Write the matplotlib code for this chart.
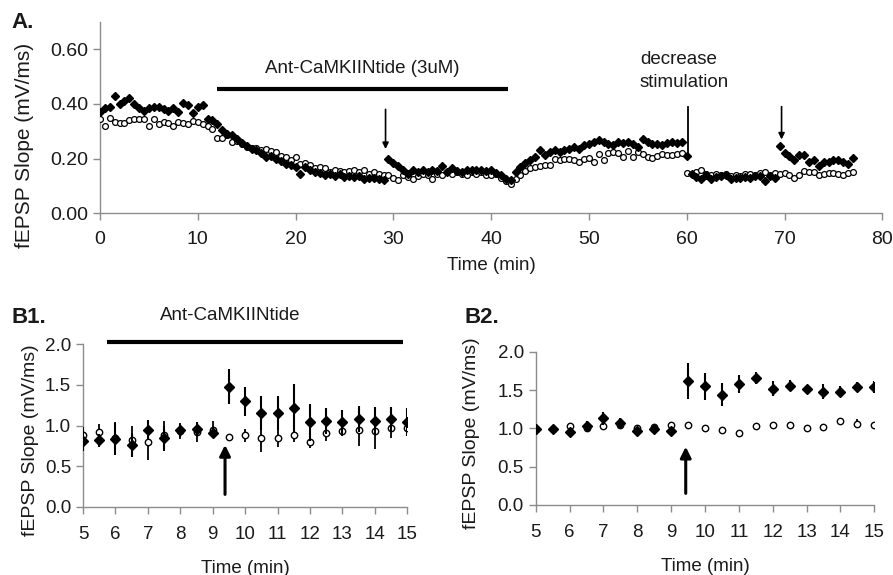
import numpy as np
import matplotlib
matplotlib.use("Agg")
import matplotlib.pyplot as plt

plt.rcParams['font.family'] = ['Liberation Sans', 'DejaVu Sans']

# ---------------- Panel A data (sampled every 0.5 min from 0 to 77 min) ----------------
a_t_start = 0.0
a_t_step = 0.5
a_filled = [
    0.370, 0.385, 0.390, 0.430, 0.400, 0.410, 0.420, 0.400, 0.385, 0.375,
    0.385, 0.390, 0.390, 0.380, 0.375, 0.385, 0.370, 0.405, 0.395, 0.365,
    0.390, 0.395, 0.345, 0.342, 0.327, 0.303, 0.291, 0.285, 0.270, 0.258,
    0.245, 0.236, 0.232, 0.222, 0.206, 0.210, 0.197, 0.190, 0.182, 0.178,
    0.168, 0.145, 0.170, 0.160, 0.150, 0.148, 0.140, 0.145, 0.138, 0.142,
    0.133, 0.138, 0.132, 0.135, 0.125, 0.130, 0.128, 0.125, 0.122, 0.200,
    0.185, 0.172, 0.158, 0.145, 0.160, 0.152, 0.160, 0.150, 0.158, 0.155,
    0.172, 0.152, 0.164, 0.155, 0.150, 0.160, 0.158, 0.160, 0.158, 0.155,
    0.160, 0.148, 0.140, 0.127, 0.121, 0.152, 0.170, 0.185, 0.195, 0.206,
    0.230, 0.212, 0.224, 0.230, 0.224, 0.230, 0.236, 0.242, 0.236, 0.248,
    0.255, 0.260, 0.269, 0.260, 0.255, 0.248, 0.260, 0.256, 0.260, 0.253,
    0.242, 0.273, 0.260, 0.253, 0.253, 0.250, 0.256, 0.260, 0.256, 0.260,
    0.208, 0.145, 0.133, 0.127, 0.139, 0.127, 0.133, 0.136, 0.139, 0.125,
    0.130, 0.128, 0.132, 0.130, 0.135, 0.138, 0.118, 0.138, 0.130, 0.246,
    0.220, 0.208, 0.196, 0.212, 0.215, 0.188, 0.196, 0.172, 0.188, 0.188,
    0.194, 0.196, 0.188, 0.182, 0.204,
]
a_open = [
    0.345, 0.320, 0.350, 0.335, 0.330, 0.332, 0.340, 0.345, 0.345, 0.345,
    0.320, 0.345, 0.325, 0.335, 0.330, 0.320, 0.335, 0.330, 0.325, 0.338,
    0.335, 0.327, 0.321, 0.309, 0.276, 0.276, 0.288, 0.261, 0.265, 0.255,
    0.242, 0.238, 0.240, 0.230, 0.236, 0.228, 0.224, 0.208, 0.205, 0.194,
    0.206, 0.182, 0.185, 0.175, 0.164, 0.170, 0.164, 0.152, 0.160, 0.155,
    0.150, 0.155, 0.158, 0.150, 0.158, 0.145, 0.150, 0.142, 0.140, 0.139,
    0.130, 0.121, 0.139, 0.132, 0.127, 0.135, 0.145, 0.140, 0.127, 0.145,
    0.140, 0.150, 0.145, 0.150, 0.145, 0.140, 0.150, 0.145, 0.150, 0.140,
    0.140, 0.145, 0.130, 0.118, 0.107, 0.127, 0.140, 0.155, 0.164, 0.168,
    0.173, 0.176, 0.176, 0.200, 0.194, 0.200, 0.200, 0.194, 0.188, 0.200,
    0.204, 0.188, 0.216, 0.194, 0.220, 0.225, 0.220, 0.206, 0.227, 0.206,
    0.224, 0.218, 0.206, 0.204, 0.209, 0.218, 0.214, 0.214, 0.218, 0.220,
    0.148, 0.145, 0.152, 0.158, 0.145, 0.140, 0.145, 0.140, 0.142, 0.138,
    0.140, 0.135, 0.142, 0.145, 0.140, 0.148, 0.150, 0.140, 0.148, 0.145,
    0.148, 0.140, 0.130, 0.140, 0.155, 0.152, 0.150, 0.140, 0.145, 0.148,
    0.148, 0.145, 0.140, 0.148, 0.152,
]

# ---------------- Panel B data ----------------
b_time = [5, 5.5, 6, 6.5, 7, 7.5, 8, 8.5, 9, 9.5, 10, 10.5, 11, 11.5, 12,
          12.5, 13, 13.5, 14, 14.5, 15]
b1_filled = [0.81, 0.82, 0.83, 0.76, 0.95, 0.84, 0.94, 0.96, 0.91, 1.48, 1.30,
             1.15, 1.15, 1.21, 1.04, 1.06, 1.04, 1.08, 1.06, 1.08, 1.04]
b1_filled_err = [0.12, 0.08, 0.20, 0.15, 0.12, 0.15, 0.08, 0.08, 0.07, 0.22, 0.18,
                 0.21, 0.21, 0.30, 0.23, 0.16, 0.15, 0.16, 0.17, 0.15, 0.17]
b1_open = [0.88, 0.92, 0.84, 0.82, 0.80, 0.88, 0.93, 0.92, 0.95, 0.86, 0.88,
           0.84, 0.84, 0.88, 0.80, 0.91, 0.93, 0.95, 0.93, 0.97, 0.97]
b1_open_err = [0.10, 0.10, 0.20, 0.18, 0.22, 0.18, 0.10, 0.12, 0.10, 0.00, 0.08,
               0.17, 0.10, 0.08, 0.08, 0.10, 0.06, 0.20, 0.22, 0.12, 0.10]

b2_filled = [0.99, 0.99, 0.95, 1.03, 1.13, 1.07, 0.97, 0.99, 0.97, 1.62, 1.55,
             1.44, 1.58, 1.66, 1.52, 1.56, 1.51, 1.48, 1.48, 1.54, 1.54]
b2_filled_err = [0.03, 0.03, 0.04, 0.07, 0.08, 0.07, 0.03, 0.04, 0.04, 0.23, 0.18,
                 0.15, 0.12, 0.08, 0.10, 0.07, 0.06, 0.10, 0.07, 0.06, 0.08]
b2_open = [0.99, 0.99, 1.03, 1.00, 1.03, 1.05, 1.00, 1.02, 1.04, 1.05, 1.00,
           0.98, 0.94, 1.03, 1.05, 1.04, 1.00, 1.02, 1.10, 1.06, 1.04]
b2_open_err = [0.02, 0.02, 0.03, 0.03, 0.04, 0.03, 0.02, 0.02, 0.03, 0.03, 0.02,
               0.02, 0.02, 0.03, 0.02, 0.02, 0.02, 0.03, 0.03, 0.06, 0.03]

SPINE = '#8c8c8c'
TXT = '#1a1a1a'


def style_axes(ax, size=13):
    for s in ['top', 'right']:
        ax.spines[s].set_visible(False)
    for s in ['left', 'bottom']:
        ax.spines[s].set_color(SPINE)
        ax.spines[s].set_linewidth(1.0)
    ax.tick_params(axis='both', colors=SPINE, labelcolor=TXT, labelsize=size,
                   length=5, width=1.0, direction='out')


fig = plt.figure(figsize=(8.93, 5.75), dpi=100)

# ---------------- Panel A ----------------
axA = fig.add_axes([0.112, 0.629, 0.876, 0.333])
tA = a_t_start + a_t_step * np.arange(len(a_filled))
axA.plot(tA, a_open, linestyle='none', marker='o', ms=4.2, mfc='white',
         mec='black', mew=0.9, zorder=3)
axA.plot(tA, a_filled, linestyle='none', marker='D', ms=4.3, mfc='black',
         mec='black', zorder=4)
axA.set_xlim(0, 80)
axA.set_ylim(0, 0.70)
axA.set_xticks([0, 10, 20, 30, 40, 50, 60, 70, 80])
axA.set_yticks([0.0, 0.2, 0.4, 0.6])
axA.set_yticklabels(['0.00', '0.20', '0.40', '0.60'])
style_axes(axA, 14)
axA.tick_params(axis='x', pad=8)
axA.set_xlabel('Time (min)', fontsize=13.5, color=TXT, labelpad=6)
axA.set_ylabel('fEPSP Slope (mV/ms)', fontsize=15, color=TXT)
axA.yaxis.set_label_coords(-0.085, 0.355)
axA.plot([12.0, 41.7], [0.456, 0.456], color='black', lw=3,
         solid_capstyle='butt', clip_on=False)
axA.text(26.8, 0.53, 'Ant-CaMKIINtide (3uM)', ha='center', va='center',
         fontsize=13.5, color=TXT)
arrow_kw = dict(arrowstyle='-|>', lw=1.2, color='black', mutation_scale=9,
                shrinkA=0, shrinkB=0)
axA.annotate('', xy=(29.2, 0.235), xytext=(29.2, 0.38), arrowprops=arrow_kw)
axA.plot([60.1, 60.1], [0.21, 0.39], color='black', lw=1.3)
axA.annotate('', xy=(69.7, 0.27), xytext=(69.7, 0.39), arrowprops=arrow_kw)
axA.text(55.2, 0.52, 'decrease\nstimulation', ha='left', va='center',
         fontsize=13.5, color=TXT, linespacing=1.45)
fig.text(0.013, 0.960, 'A.', fontsize=16, fontweight='bold', color=TXT,
         ha='left', va='center')


def panel_b(rect, filled, ferr, opn, oerr, arrow_x, label_x, label_y):
    ax = fig.add_axes(rect)
    ax.errorbar(b_time, opn, yerr=oerr, fmt='o', ms=4.6, mfc='white',
                mec='black', mew=1.0, ecolor='black', elinewidth=1.3,
                capsize=0, zorder=3)
    ax.errorbar(b_time, filled, yerr=ferr, fmt='D', ms=5.5, mfc='black',
                mec='black', ecolor='black', elinewidth=1.5, capsize=0,
                zorder=4)
    ax.set_xlim(5, 15)
    ax.set_ylim(0, 2.0)
    ax.set_xticks(range(5, 16))
    ax.set_yticks([0.0, 0.5, 1.0, 1.5, 2.0])
    ax.set_yticklabels(['0.0', '0.5', '1.0', '1.5', '2.0'])
    style_axes(ax, 13.5)
    ax.tick_params(axis='x', pad=9)
    ax.set_xlabel('Time (min)', fontsize=13.5, color=TXT, labelpad=12)
    ax.set_ylabel('fEPSP Slope (mV/ms)', fontsize=14, color=TXT)
    ax.yaxis.set_label_coords(label_x, label_y)
    ax.annotate('', xy=(arrow_x, 0.76), xytext=(arrow_x, 0.15),
                arrowprops=dict(arrowstyle='-|>', lw=2.2, color='black',
                                mutation_scale=16, shrinkA=0, shrinkB=0))
    return ax


axB1 = panel_b([0.093, 0.119, 0.363, 0.282], b1_filled, b1_filled_err,
               b1_open, b1_open_err, 9.38, -0.135, 0.41)
axB1.plot([5.73, 14.88], [2.03, 2.03], color='black', lw=3,
          solid_capstyle='butt', clip_on=False)
axB1.text(9.54, 2.36, 'Ant-CaMKIINtide', ha='center', va='center',
          fontsize=13.5, color=TXT, clip_on=False)
fig.text(0.013, 0.447, 'B1.', fontsize=16, fontweight='bold', color=TXT,
         ha='left', va='center')

axB2 = panel_b([0.600, 0.122, 0.379, 0.266], b2_filled, b2_filled_err,
               b2_open, b2_open_err, 9.43, -0.165, 0.47)
fig.text(0.520, 0.447, 'B2.', fontsize=16, fontweight='bold', color=TXT,
         ha='left', va='center')

fig.savefig('out.png', dpi=100)
